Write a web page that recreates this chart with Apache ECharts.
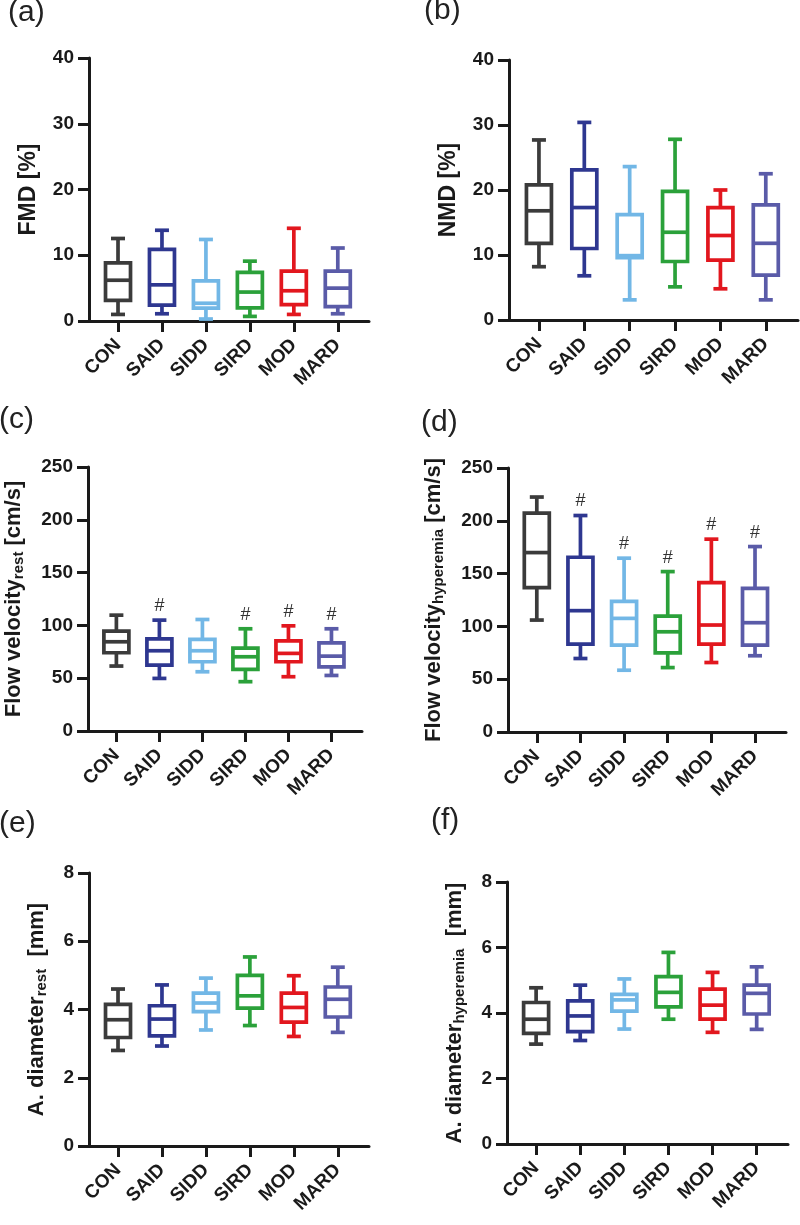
<!DOCTYPE html>
<html>
<head>
<meta charset="utf-8">
<script src="https://cdn.jsdelivr.net/npm/echarts@6/dist/echarts.min.js"></script>
<style>
html,body{margin:0;padding:0;background:#ffffff;}
#chart{width:800px;height:1225px;}
</style>
</head>
<body>
<div id="chart"></div>
<script>
// ---- data ----
const categories = ['CON', 'SAID', 'SIDD', 'SIRD', 'MOD', 'MARD'];
const groupColors = ['#3b3b3b', '#2e3790', '#72b7e6', '#2ba13a', '#e2171e', '#5a5ba8'];
// each row: [min, Q1, median, Q3, max]
const fmd = [[1.0, 3.15, 6.2, 8.85, 12.55], [1.1, 2.4, 5.5, 10.9, 13.8], [0.3, 1.95, 2.7, 6.1, 12.4], [0.7, 2.0, 4.4, 7.4, 9.1], [1.0, 2.5, 4.6, 7.6, 14.1], [1.1, 2.2, 5.0, 7.6, 11.1]];
const nmd = [[8.2, 11.8, 16.8, 20.8, 27.7], [6.8, 11.0, 17.3, 23.1, 30.4], [3.1, 9.6, 9.9, 16.2, 23.6], [5.1, 9.0, 13.5, 19.8, 27.8], [4.8, 9.2, 13.0, 17.3, 20.0], [3.1, 6.9, 11.8, 17.7, 22.5]];
const velRest = [[61.5, 74.1, 84.5, 94.6, 109.7], [49.8, 62.4, 76, 87.3, 105], [56.1, 65.6, 76, 86.7, 105.6], [46.7, 58.3, 70.3, 78.5, 96.8], [51.4, 65.6, 73.5, 85.4, 99.6], [52.6, 60.8, 70.9, 83.5, 96.8]];
const velHyp = [[106, 136.7, 169.9, 207.3, 222.5], [69.6, 83.2, 114.9, 165.5, 205], [58.5, 82.3, 107.6, 123.7, 164.6], [61, 75, 94.9, 109.8, 151.9], [65.8, 83.2, 101.3, 141.5, 182.6], [72.2, 82.3, 103.5, 136, 175.6]];
const diaRest = [[2.8, 3.18, 3.70, 4.15, 4.6], [2.93, 3.23, 3.72, 4.11, 4.72], [3.40, 3.94, 4.19, 4.48, 4.92], [3.53, 4.04, 4.40, 5.0, 5.54], [3.21, 3.63, 4.06, 4.48, 4.99], [3.33, 3.78, 4.30, 4.66, 5.24]];
const diaHyp = [[3.05, 3.38, 3.81, 4.32, 4.77], [3.16, 3.43, 3.91, 4.37, 4.85], [3.51, 4.06, 4.40, 4.57, 5.04], [3.81, 4.19, 4.63, 5.11, 5.85], [3.41, 3.81, 4.24, 4.73, 5.24], [3.50, 3.97, 4.60, 4.85, 5.41]];
const sigNone = [false, false, false, false, false, false];
const sigRest = [false, true, false, true, true, true];
const sigHyp = [false, true, true, true, true, true];
const yTicksFMD = [0, 40, 10];
const yTicksVel = [0, 250, 50];
const yTicksDia = [0, 8, 2];

// ---- layout ----
const FONT = '"Liberation Sans", Arial, Helvetica, sans-serif';
const INK = '#1a1a1a';
const panels = [
  { tag: '(a)', tagPos: [8, -2], grid: [89, 58, 280, 263], values: fmd, sig: sigNone, ticks: yTicksFMD, name: 'FMD [%]', gap: 49, nameSize: 23 },
  { tag: '(b)', tagPos: [424, -4], grid: [509, 60, 289, 260], values: nmd, sig: sigNone, ticks: yTicksFMD, name: 'NMD [%]', gap: 49, nameSize: 23 },
  { tag: '(c)', tagPos: [-1, 405], grid: [88, 467, 274, 264], values: velRest, sig: sigRest, ticks: yTicksVel, name: 'Flow velocity{sub|rest} [cm/s]', gap: 62, nameSize: 22 },
  { tag: '(d)', tagPos: [421, 408], grid: [508, 468, 278, 264], values: velHyp, sig: sigHyp, ticks: yTicksVel, name: 'Flow velocity{sub|hyperemia} [cm/s]', gap: 62, nameSize: 22 },
  { tag: '(e)', tagPos: [-1, 809], grid: [89, 873, 280, 273], values: diaRest, sig: sigNone, ticks: yTicksDia, name: 'A. diameter{sub|rest}  [mm]', gap: 40, nameSize: 22 },
  { tag: '(f)', tagPos: [431, 806], grid: [507, 882, 281, 262], values: diaHyp, sig: sigNone, ticks: yTicksDia, name: 'A. diameter{sub|hyperemia}  [mm]', gap: 40, nameSize: 22 }
];

const catIdx = categories.map((c, i) => i);

function makeRender(sig) {
  return function (params, api) {
    const i = api.value(0);
    const x = api.coord([i, api.value(3)])[0];
    const py = k => api.coord([i, api.value(k)])[1];
    const yMin = py(1), yQ1 = py(2), yMed = py(3), yQ3 = py(4), yMax = py(5);
    const color = groupColors[params.dataIndex];
    const hw = 12.5, cw = 7, lw = 3.7;
    const st = { stroke: color, lineWidth: lw, fill: null };
    const children = [
      { type: 'line', shape: { x1: x, y1: yQ3, x2: x, y2: yMax }, style: st },
      { type: 'line', shape: { x1: x, y1: yQ1, x2: x, y2: yMin }, style: st },
      { type: 'line', shape: { x1: x - cw, y1: yMax, x2: x + cw, y2: yMax }, style: st },
      { type: 'line', shape: { x1: x - cw, y1: yMin, x2: x + cw, y2: yMin }, style: st },
      { type: 'rect', shape: { x: x - hw, y: yQ3, width: 2 * hw, height: yQ1 - yQ3 }, style: { stroke: color, lineWidth: lw, fill: '#ffffff' } },
      { type: 'line', shape: { x1: x - hw, y1: yMed, x2: x + hw, y2: yMed }, style: st }
    ];
    if (sig[params.dataIndex]) {
      children.push({
        type: 'text',
        style: { text: '#', x: x, y: yMax - 5, align: 'center', verticalAlign: 'bottom', fontSize: 18, fontFamily: FONT, fill: '#333333' }
      });
    }
    return { type: 'group', children: children };
  };
}

const option = {
  backgroundColor: '#ffffff',
  animation: false,
  title: panels.map(p => ({
    text: p.tag, left: p.tagPos[0], top: p.tagPos[1], padding: 0,
    textStyle: { fontFamily: FONT, fontWeight: 'normal', fontSize: 30, color: '#222222' }
  })),
  grid: panels.map(p => ({
    left: p.grid[0], top: p.grid[1], width: p.grid[2], height: p.grid[3],
    containLabel: false, outerBoundsMode: 'none'
  })),
  xAxis: panels.map((p, k) => ({
    type: 'value', gridIndex: k, min: -0.66, max: 5.71,
    splitLine: { show: false },
    axisLine: { show: true, onZero: false, lineStyle: { color: INK, width: 3 } },
    axisTick: { show: true, customValues: catIdx, length: 11, lineStyle: { color: INK, width: 3 } },
    axisLabel: {
      customValues: catIdx, formatter: v => categories[Math.round(v)],
      rotate: 45, margin: 21, fontSize: 19, fontWeight: 'bold', color: INK, fontFamily: FONT
    }
  })),
  yAxis: panels.map((p, k) => ({
    type: 'value', gridIndex: k, min: p.ticks[0], max: p.ticks[1], interval: p.ticks[2],
    splitLine: { show: false },
    axisLine: { show: true, onZero: false, lineStyle: { color: INK, width: 3 } },
    axisTick: { show: true, length: 11, lineStyle: { color: INK, width: 3 } },
    axisLabel: { margin: 15, fontSize: 19, fontWeight: 'bold', color: INK, fontFamily: FONT },
    name: p.name, nameLocation: 'middle', nameRotate: 90, nameGap: p.gap,
    nameTextStyle: {
      fontFamily: FONT, fontWeight: 'bold', fontSize: p.nameSize, color: INK,
      rich: { sub: { fontFamily: FONT, fontWeight: 'bold', fontSize: 15, color: INK, padding: [10, 0, 0, 0] } }
    }
  })),
  series: panels.map((p, k) => ({
    type: 'custom', xAxisIndex: k, yAxisIndex: k,
    renderItem: makeRender(p.sig),
    encode: { x: 0, y: [1, 2, 3, 4, 5] },
    data: p.values.map((row, i) => [i].concat(row))
  }))
};

const chart = echarts.init(document.getElementById('chart'), null, { renderer: 'canvas' });
chart.setOption(option);
</script>
</body>
</html>
